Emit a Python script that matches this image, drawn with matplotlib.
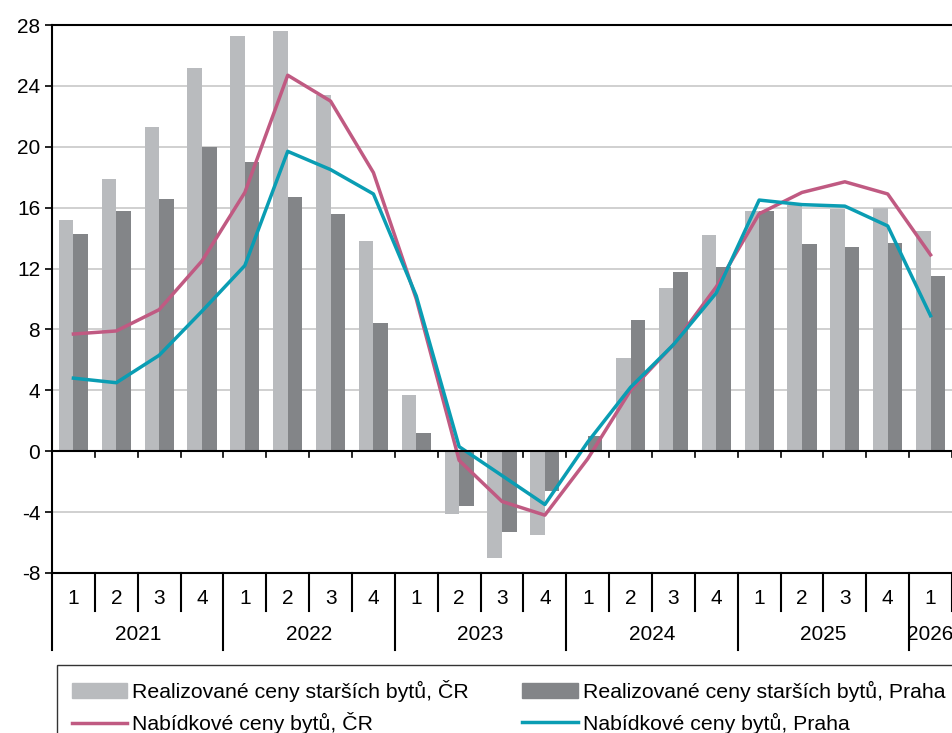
import numpy as np
import matplotlib.pyplot as plt
from matplotlib.patches import Patch
from matplotlib.lines import Line2D

plt.rcParams['font.family'] = ['Liberation Sans', 'DejaVu Sans']
plt.rcParams['axes.unicode_minus'] = False

# ctvrtleti 2021Q1 - 2026Q1
roky = ['2021', '2022', '2023', '2024', '2025', '2026']
ctvrtleti = ['1', '2', '3', '4'] * 5 + ['1']

# realizovane ceny starsich bytu (mezirocni zmena v %)
real_cr = [15.2, 17.9, 21.3, 25.2, 27.3, 27.6, 23.4, 13.8, 3.7, -4.1, -7.0, -5.5,
           0.1, 6.1, 10.7, 14.2, 15.8, 16.2, 15.9, 16.0, 14.5]
real_praha = [14.3, 15.8, 16.6, 20.0, 19.0, 16.7, 15.6, 8.4, 1.2, -3.6, -5.3, -2.6,
              1.0, 8.6, 11.8, 12.1, 15.8, 13.6, 13.4, 13.7, 11.5]
# nabidkove ceny bytu
nab_cr = [7.7, 7.9, 9.3, 12.5, 17.0, 24.7, 23.0, 18.3, 10.0, -0.6, -3.3, -4.2,
          -0.5, 4.0, 7.0, 10.8, 15.6, 17.0, 17.7, 16.9, 12.9]
nab_praha = [4.8, 4.5, 6.3, 9.2, 12.2, 19.7, 18.5, 16.9, 10.2, 0.3, -1.6, -3.5,
             0.6, 4.2, 7.0, 10.4, 16.5, 16.2, 16.1, 14.8, 8.9]

c_light = '#B9BBBE'
c_dark = '#838588'
c_pink = '#C05A82'
c_teal = '#0A9DB3'
fs = 15

fig = plt.figure(figsize=(9.52, 7.33), dpi=100)
ax = fig.add_axes([52/952, 1-573/733, 1-52/952, 548/733])

x = np.arange(len(real_cr))
w = 0.34
ax.bar(x - w/2, real_cr, w, color=c_light, zorder=2)
ax.bar(x + w/2, real_praha, w, color=c_dark, zorder=2)
ax.plot(x, nab_cr, color=c_pink, lw=2.5, zorder=3)
ax.plot(x, nab_praha, color=c_teal, lw=2.5, zorder=4)

ax.set_xlim(-0.5, len(x) - 0.5)
ax.set_ylim(-8, 28)
ax.set_yticks(np.arange(-8, 29, 4))
ax.tick_params(axis='y', labelsize=fs, length=5, width=1.2, direction='out')
ax.yaxis.grid(True, color='#C8C8C8', lw=1.2, zorder=0)
ax.set_xticks([])
ax.axhline(0, color='black', lw=1.5, zorder=5)
for s in ['left', 'top', 'bottom']:
    ax.spines[s].set_linewidth(1.5)
ax.spines['right'].set_visible(False)

# znacky na nulove ose
for b in np.arange(-0.5, len(x)):
    ax.plot([b, b], [0, -0.4], color='black', lw=1.2, zorder=5, clip_on=False)

# dvouurovnova kategoriova osa
trans = ax.get_xaxis_transform()
h_q = 38/548
h_y = 77/548
for i in range(len(x) + 1):
    b = i - 0.5
    h = h_y if i % 4 == 0 else h_q
    ax.plot([b, b], [0, -h], color='black', lw=1.5, transform=trans, clip_on=False)
for i, q in enumerate(ctvrtleti):
    ax.text(i, -25/548, q, transform=trans, ha='center', va='center', fontsize=fs)
for j, r in enumerate(roky):
    n = 4 if j < 5 else 1
    ax.text(j*4 + (n-1)/2, -62/548, r, transform=trans, ha='center', va='center', fontsize=fs)

# poradi po sloupcich: ČR vlevo, Praha vpravo
handles = [Patch(color=c_light), Line2D([], [], color=c_pink, lw=2.5),
           Patch(color=c_dark), Line2D([], [], color=c_teal, lw=2.5)]
labels = ['Realizované ceny starších bytů, ČR', 'Nabídkové ceny bytů, ČR',
          'Realizované ceny starších bytů, Praha', 'Nabídkové ceny bytů, Praha']
leg = fig.legend(handles, labels, loc='upper left', bbox_to_anchor=(57/952, 1-665/733),
                 borderaxespad=0, ncol=2, fontsize=15.3, frameon=True, fancybox=False,
                 edgecolor='black', handlelength=2.6, columnspacing=2.5,
                 labelspacing=0.5, borderpad=0.7, handletextpad=0.25)
leg.get_frame().set_linewidth(1.0)

fig.savefig('out.png', dpi=100)
